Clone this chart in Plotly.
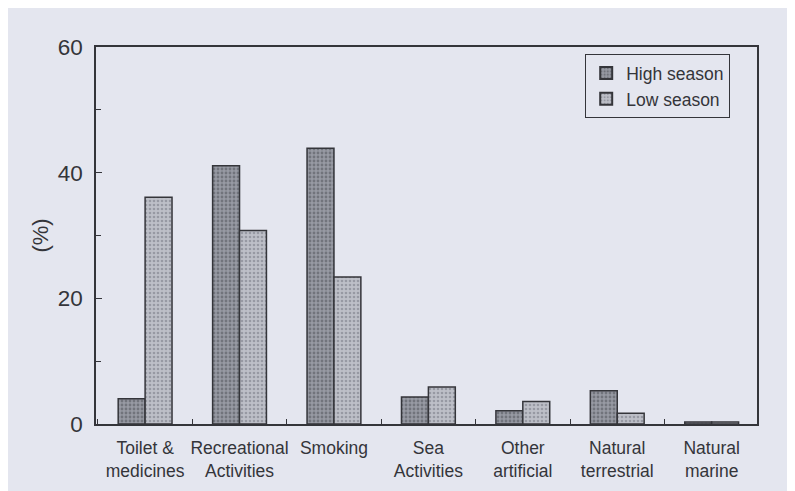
import plotly.graph_objects as go

categories = ["Toilet &<br>medicines", "Recreational<br>Activities", "Smoking",
              "Sea<br>Activities", "Other<br>artificial", "Natural<br>terrestrial",
              "Natural<br>marine"]
high_season = [4.0, 41.1, 43.9, 4.3, 2.1, 5.3, 0.3]
low_season = [36.1, 30.8, 23.4, 5.9, 3.6, 1.7, 0.3]
y_ticks = [0, 20, 40, 60]

PAGE = "#e4e6ef"
INK = "#34353a"
FONT = "Liberation Sans, Arial, sans-serif"

fig = go.Figure()
fig.add_trace(go.Bar(
    name="High season", x=categories, y=high_season,
    marker=dict(color="#90929b",
                line=dict(color=INK, width=1.5),
                pattern=dict(shape=".", fgcolor="#4c4e56", bgcolor="#979aa3",
                             size=4, solidity=0.4, fillmode="overlay")),
))
fig.add_trace(go.Bar(
    name="Low season", x=categories, y=low_season,
    marker=dict(color="#b9bbc4",
                line=dict(color=INK, width=1.5),
                pattern=dict(shape=".", fgcolor="#72747d", bgcolor="#bdbfc8",
                             size=4, solidity=0.35, fillmode="overlay")),
))

W, H = 795, 491
OFF = 8  # page body margin
ml, mr, mt, mb = 88, 46, 39, 75
pw, ph = W - ml - mr, H - mt - mb

def px_x(p):
    return (p - OFF - ml) / pw

def px_y(p):
    return (H - mb - (p - OFF)) / ph

fig.update_layout(
    width=W, height=H,
    margin=dict(l=ml, r=mr, t=mt, b=mb, pad=0, autoexpand=False),
    paper_bgcolor=PAGE, plot_bgcolor=PAGE,
    barmode="group", bargap=0.43, bargroupgap=0,
    font=dict(family=FONT, color=INK),
    showlegend=True,
    legend=dict(
        x=px_x(730), y=px_y(54), xanchor="right", yanchor="top",
        bgcolor=PAGE, bordercolor=INK, borderwidth=1.2,
        font=dict(size=17.5, family=FONT, color=INK),
        itemsizing="constant", tracegroupgap=2,
    ),
)

fig.update_xaxes(
    type="category", range=[-0.52, 6.48], automargin=False, tickangle=0,
    tickson="boundaries", ticks="inside", ticklen=5, tickwidth=1.2, tickcolor=INK,
    showline=True, linecolor=INK, linewidth=1.5, mirror=True,
    showgrid=False, zeroline=False,
    tickfont=dict(size=17.5, family=FONT, color=INK),
    ticklabelstandoff=7,
)
fig.update_yaxes(
    range=[0, 60], tickvals=y_ticks, ticktext=[str(v) for v in y_ticks],
    automargin=False,
    ticks="inside", ticklen=6, tickwidth=1.2, tickcolor=INK,
    minor=dict(ticks="inside", dtick=10, ticklen=5, tickwidth=1.2, tickcolor=INK),
    showline=True, linecolor=INK, linewidth=1.5, mirror=True,
    showgrid=False, zeroline=False,
    tickfont=dict(size=22.5, family=FONT, color=INK),
    ticklabelstandoff=7,
    title=dict(text="(%)", font=dict(size=22, family=FONT, color=INK), standoff=3),
)

fig.write_html("out.html")
